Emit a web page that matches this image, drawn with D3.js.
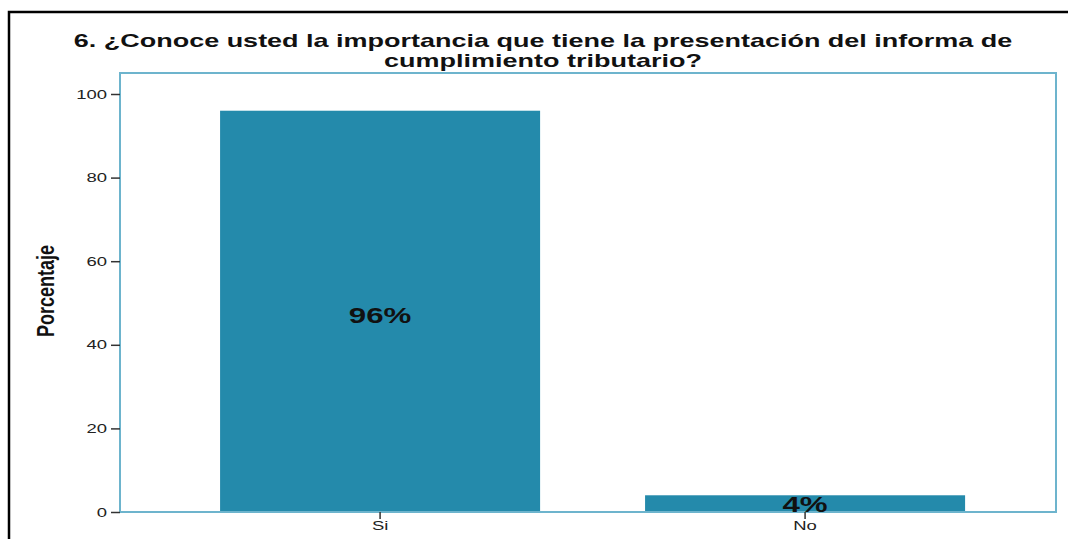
<!DOCTYPE html>
<html><head><meta charset="utf-8">
<script src="https://cdn.jsdelivr.net/npm/d3@7"></script>
<style>
body{margin:0;background:#fff;}
svg{display:block;font-family:"Liberation Sans",Arial,sans-serif;}
</style></head>
<body><svg id="c" width="1068" height="539"></svg>
<script>
const categories = ["Si", "No"];
const values = [96, 4];
const labels = ["96%", "4%"];
const yTicks = [0, 20, 40, 60, 80, 100];
const titleLines = ["6. ¿Conoce usted la importancia que tiene la presentación del informa de", "cumplimiento tributario?"];
const yTitle = "Porcentaje";

const svg = d3.select("#c");
const L = 120, R = 1056, T = 73, B = 512;
const SX = 1.42; // horizontal stretch of the original rendering

function stretch(sel, f) {
  sel.each(function(){
    const len = this.getComputedTextLength();
    d3.select(this).attr("textLength", len * f).attr("lengthAdjust","spacingAndGlyphs");
  });
}

// outer black border (top and left)
svg.append("path").attr("d", `M9,539 V12 H1068`).attr("fill","none").attr("stroke","#000").attr("stroke-width",2.5);

// title
const tt = svg.append("g").selectAll("text").data(titleLines).join("text")
  .attr("x", 543).attr("y", (d,i)=> 47 + i*19.5)
  .attr("text-anchor","middle").attr("font-weight","bold").attr("font-size",19).attr("fill","#111")
  .text(d=>d);
stretch(tt, SX);

const y = d3.scaleLinear().domain([0,100]).range([B, 94]);
const x = d3.scaleBand().domain(categories).range([L, R]).paddingInner(0.247).paddingOuter(0.2247).align(0.524);

// bars
svg.append("g").selectAll("rect").data(categories).join("rect")
  .attr("x", d=>x(d)).attr("width", x.bandwidth())
  .attr("y", (d,i)=>y(values[i])).attr("height", (d,i)=>B - y(values[i]))
  .attr("fill","#248aab");

// frame
svg.append("rect").attr("x",L).attr("y",T).attr("width",R-L).attr("height",B-T)
  .attr("fill","none").attr("stroke","#6db4cd").attr("stroke-width",2);

// y axis
const ya = svg.append("g").attr("transform",`translate(${L},0)`)
  .call(d3.axisLeft(y).tickValues(yTicks).tickSize(9).tickPadding(4));
ya.select(".domain").remove();
ya.selectAll("line").attr("stroke","#333").attr("stroke-width",1.5);
ya.selectAll("text").attr("font-size",13).attr("fill","#222").attr("font-family","Liberation Sans, Arial, sans-serif");
stretch(ya.selectAll("text"), SX);

// x axis
const xa = svg.append("g").attr("transform",`translate(0,${B})`)
  .call(d3.axisBottom(x).tickSize(7).tickPadding(2));
xa.select(".domain").remove();
xa.selectAll("line").attr("stroke","#333").attr("stroke-width",1.5);
xa.selectAll("text").attr("font-size",13).attr("fill","#222").attr("font-family","Liberation Sans, Arial, sans-serif");
stretch(xa.selectAll("text"), SX);

// value labels
const vl = svg.append("g").selectAll("text").data(categories).join("text")
  .attr("x", d=>x(d)+x.bandwidth()/2)
  .attr("y", (d,i)=>y(values[i]/2))
  .attr("dy", (d,i)=> i === 0 ? "0.55em" : "0.36em")
  .attr("text-anchor","middle").attr("font-weight","bold").attr("font-size",22).attr("fill","#111")
  .text((d,i)=>labels[i]);
stretch(vl, SX);

// y title
svg.append("text").attr("transform","translate(54,291) scale(1.3,1) rotate(-90)")
  .attr("text-anchor","middle").attr("font-weight","bold").attr("font-size",18)
  .attr("font-family","'Liberation Sans Narrow','Arial Narrow',sans-serif").attr("fill","#111")
  .text(yTitle);
</script></body></html>
